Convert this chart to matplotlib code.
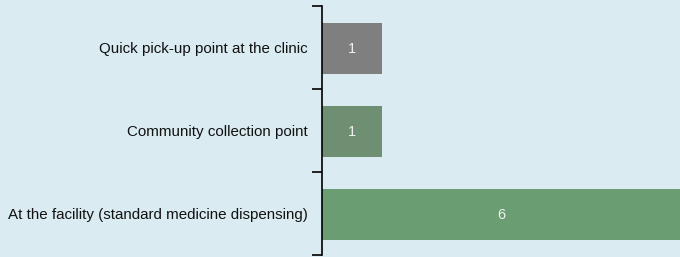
import matplotlib.pyplot as plt

categories = ['At the facility (standard medicine dispensing)',
              'Community collection point',
              'Quick pick-up point at the clinic']
counts = [6, 1, 1]
colors = ['#6a9d72', '#6e8f72', '#7f7f7f']

plt.rcParams['font.family'] = ['Liberation Sans', 'DejaVu Sans']

fig = plt.figure(figsize=(6.8, 2.57), dpi=100)
fig.patch.set_facecolor('#daecf2')
ax = fig.add_axes([322 / 680, 2 / 257, 1 - 322 / 680, 249 / 257])
ax.set_facecolor('#daecf2')

pos = list(range(len(categories)))
bars = ax.barh([p - 0.015 for p in pos], counts, height=0.62, color=colors)
for b, v in zip(bars, counts):
    ax.text(min(b.get_width(), 6.03) / 2, b.get_y() + b.get_height() / 2,
            str(v), ha='center', va='center', color='#f0f0f0', fontsize=10.5)

ax.set_xlim(0, 6)
ax.set_ylim(-0.5, 2.5)
ax.set_xticks([])

# boundary ticks between bars, labels at bar centres
ax.set_yticks([-0.5, 0.5, 1.5, 2.5])
ax.set_yticklabels([])
ax.set_yticks(pos, minor=True)
ax.set_yticklabels(categories, minor=True, fontsize=10.9, color='#111111')
ax.tick_params(axis='y', which='major', length=7.5, width=1.2, direction='out')
ax.tick_params(axis='y', which='minor', length=0, pad=10)

for s in ['top', 'right', 'bottom']:
    ax.spines[s].set_visible(False)
ax.spines['left'].set_linewidth(1.2)

fig.savefig('out.png', dpi=100, facecolor=fig.get_facecolor())
